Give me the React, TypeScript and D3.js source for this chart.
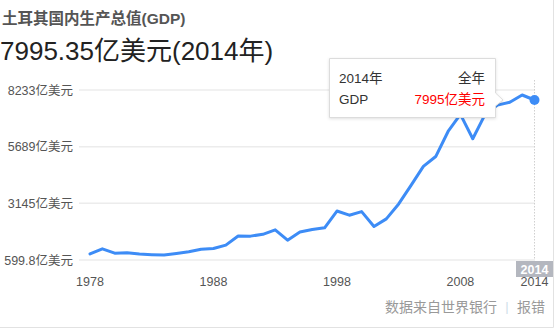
import React from "react";
import * as d3 from "d3";

const years: number[] = [
  1978, 1979, 1980, 1981, 1982, 1983, 1984, 1985, 1986, 1987, 1988, 1989,
  1990, 1991, 1992, 1993, 1994, 1995, 1996, 1997, 1998, 1999, 2000, 2001,
  2002, 2003, 2004, 2005, 2006, 2007, 2008, 2009, 2010, 2011, 2012, 2013, 2014,
];
// GDP, 亿美元
const gdp: number[] = [
  651, 894, 688, 710, 645, 617, 599.8, 672, 757, 872, 908, 1071,
  1507, 1500, 1585, 1802, 1307, 1695, 1815, 1898, 2698, 2499, 2669, 1961,
  2323, 3036, 3925, 4828, 5297, 6493, 7307, 6146, 7311, 7749, 7889, 8233, 7995,
];
const yTickValues: number[] = [599.8, 3145, 5689, 8233];
const yTickLabels: string[] = ["599.8亿美元", "3145亿美元", "5689亿美元", "8233亿美元"];
const xTickYears: number[] = [1978, 1988, 1998, 2008, 2014];

const FONT = "Arial, 'Liberation Sans', 'Noto Sans CJK SC', sans-serif";

export default function App() {
  const W = 560;
  const H = 336;
  const x = d3.scaleLinear().domain([1978, 2014]).range([90, 534.5]);
  const yGrid = d3.scaleLinear().domain([599.8, 8233]).range([260, 90]);
  const yLine = d3.scaleLinear().domain([599.8, 8233]).range([255, 95]);
  const data = years.map((yr, i) => ({ yr, v: gdp[i] }));
  const line = d3
    .line<{ yr: number; v: number }>()
    .x((d) => x(d.yr))
    .y((d) => yLine(d.v));
  const last = data[data.length - 1];
  const lx = x(last.yr);
  const ly = yLine(last.v);

  return (
    <svg
      width={W}
      height={H}
      style={{ position: "absolute", left: 0, top: 0, background: "#fff" }}
      fontFamily={FONT}
    >
      {/* card border */}
      <line x1={0} x2={553.5} y1={327.5} y2={327.5} stroke="#e2e2e2" />
      <line x1={553.5} x2={553.5} y1={0} y2={327.5} stroke="#e2e2e2" />

      <text x={2} y={24} fontSize={15.5} fontWeight="bold" fill="#555">
        土耳其国内生产总值(GDP)
      </text>
      <text x={0} y={60} fontSize={26} fill="#222">
        7995.35亿美元(2014年)
      </text>

      {/* gridlines */}
      {yTickValues.map((v, i) => (
        <g key={i}>
          <line
            x1={79}
            x2={535}
            y1={yGrid(v)}
            y2={yGrid(v)}
            stroke="#ececec"
            strokeWidth={1.5}
          />
          <text
            x={73}
            y={yGrid(v) + 4.5}
            textAnchor="end"
            fontSize={12.5}
            fill="#555"
          >
            {yTickLabels[i]}
          </text>
        </g>
      ))}

      {/* vertical hover line */}
      <line
        x1={lx}
        x2={lx}
        y1={80}
        y2={260}
        stroke="#cfcfcf"
        strokeWidth={1}
        strokeDasharray="1.5,1.5"
      />

      {/* x labels */}
      {xTickYears.map((yr) => (
        <text
          key={yr}
          x={x(yr)}
          y={286}
          textAnchor="middle"
          fontSize={12.5}
          fill="#555"
        >
          {yr}
        </text>
      ))}
      <rect x={516} y={261} width={37} height={16} fill="#b4b7bf" />
      <text
        x={534.5}
        y={274}
        textAnchor="middle"
        fontSize={12.5}
        fontWeight="bold"
        fill="#fff"
      >
        2014
      </text>

      {/* line */}
      <path
        d={line(data) || ""}
        fill="none"
        stroke="#3d8cf6"
        strokeWidth={3}
        strokeLinejoin="round"
        strokeLinecap="round"
      />
      <circle cx={lx} cy={ly} r={5} fill="#3d8cf6" />

      {/* tooltip */}
      <g>
        <path
          d="M329.5,58.5 H495.5 V93 L503,100 L495.5,106 V117.5 H329.5 Z"
          fill="#fff"
          stroke="#dcdcdc"
          strokeWidth={1}
          style={{ filter: "drop-shadow(0px 1px 1.5px rgba(0,0,0,0.12))" }}
        />
        <text x={339} y={83} fontSize={13.5} fill="#333">
          2014年
        </text>
        <text x={485} y={83} fontSize={13.5} fill="#333" textAnchor="end">
          全年
        </text>
        <text x={339} y={104} fontSize={13.5} fill="#333">
          GDP
        </text>
        <text x={485} y={104} fontSize={13.5} fill="#f00" textAnchor="end">
          7995亿美元
        </text>
      </g>

      {/* footer */}
      <text x={497} y={312} fontSize={14} fill="#999" textAnchor="end">
        数据来自世界银行
      </text>
      <text x={507} y={311} fontSize={13} fill="#cfe0ea" textAnchor="middle">
        |
      </text>
      <text x={517} y={312} fontSize={14} fill="#999">
        报错
      </text>
    </svg>
  );
}
